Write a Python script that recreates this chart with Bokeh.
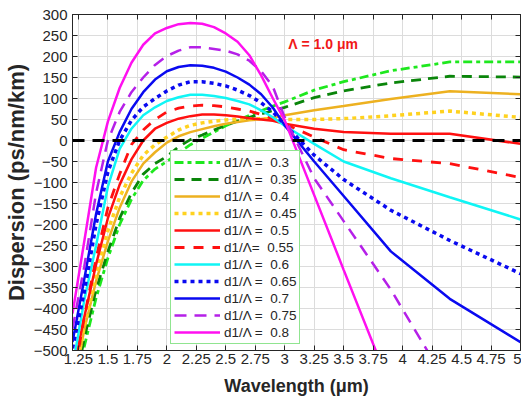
from bokeh.plotting import figure
from bokeh.models import LinearAxis, FixedTicker, Label, Span, Legend, LegendItem
from bokeh.embed import file_html
from bokeh.resources import INLINE

# ---------------- data ----------------
wavelength = [1.2, 1.3, 1.4, 1.5, 1.6, 1.7, 1.8, 1.9, 2.0, 2.1, 2.2, 2.3, 2.4, 2.5,
              2.6, 2.7, 2.8, 2.9, 3.0, 3.25, 3.5, 3.9, 4.4, 5.0]

d_030 = [-640, -490, -375, -280, -200, -140, -95, -68, -50, -30, -10, 5, 20, 35,
         48, 60, 71, 82, 92, 120, 140, 166, 187, 187]
d_035 = [-620, -470, -355, -265, -185, -125, -80, -55, -38, -15, 2, 13, 25, 36,
         46, 55, 63, 71, 79, 102, 118, 137, 153, 151]
d_040 = [-600, -450, -335, -240, -160, -98, -55, -28, -5, 10, 20, 27, 34, 40,
         44, 48, 51, 55, 60, 72, 82, 99, 117, 110]
d_045 = [-590, -440, -320, -215, -135, -78, -35, -10, 8, 25, 36, 42, 46, 49,
         51, 52, 52, 51, 50, 50, 52, 59, 70, 55]
d_050 = [-560, -420, -295, -185, -105, -45, 0, 28, 42, 52, 58, 62, 62, 60,
         57, 53, 50, 47, 40, 28, 20, 16, 16, -8]
d_055 = [-580, -420, -280, -160, -80, -10, 25, 50, 68, 77, 82, 84, 83, 80,
         75, 70, 62, 52, 40, 8, -22, -43, -55, -88]
d_060 = [-540, -380, -250, -110, -20, 28, 60, 79, 94, 103, 109, 109, 106, 101,
         94, 86, 72, 55, 35, -8, -50, -90, -135, -188]
d_065 = [-495, -360, -200, -75, 0, 48, 80, 100, 118, 132, 140, 140, 136, 130,
         120, 107, 90, 68, 38, -35, -93, -166, -238, -317]
d_070 = [-480, -330, -175, -50, 20, 75, 115, 145, 165, 175, 179, 178, 173, 164,
         150, 133, 110, 78, 36, -50, -132, -264, -377, -480]
d_075 = [-448, -300, -125, 0, 68, 115, 150, 180, 201, 214, 222, 222, 218, 214,
         205, 190, 165, 128, 55, -90, -192, -355, -590, -870]
d_080 = [-412, -240, -65, 45, 125, 185, 228, 255, 268, 277, 280, 278, 270, 255,
         235, 203, 155, 100, 48, -130, -308, -590, -950, -1380]

labels = ["d1/Λ =  0.3", "d1/Λ =  0.35", "d1/Λ =  0.4", "d1/Λ =  0.45", "d1/Λ =  0.5",
          "d1/Λ=  0.55", "d1/Λ =  0.6", "d1/Λ =  0.65", "d1/Λ =  0.7", "d1/Λ =  0.75",
          "d1/Λ =  0.8"]
series = [d_030, d_035, d_040, d_045, d_050, d_055, d_060, d_065, d_070, d_075, d_080]

x_ticks = [1.25, 1.5, 1.75, 2, 2.25, 2.5, 2.75, 3, 3.25, 3.5, 3.75, 4, 4.25, 4.5, 4.75, 5]
x_tick_labels = ["1.25", "1.5", "1.75", "2", "2.25", "2.5", "2.75", "3", "3.25", "3.5",
                 "3.75", "4", "4.25", "4.5", "4.75", "5"]
y_ticks = list(range(-500, 301, 50))

# ---------------- styles ----------------
colors = ["#1EE81E", "#0A850A", "#EDB120", "#FFD21F", "#FF1010", "#FF1010",
          "#10F5F5", "#0A0AF0", "#0A0AF0", "#B520E8", "#FF10F0"]
dashes = ["9 4 4 4", "10 7", "solid", "4 4", "solid", "10 9",
          "solid", "4 4", "solid", "12 8", "solid"]
widths = [2.8, 2.8, 2.5, 3.5, 2.5, 2.8, 2.5, 3.5, 2.5, 2.5, 2.5]

FONT = "Liberation Sans"
AX = "#262626"

p = figure(width=521, height=400, x_range=(1.2, 5), y_range=(-500, 300),
           output_backend="svg", toolbar_location=None,
           min_border_left=72, min_border_right=1, min_border_top=14, min_border_bottom=50)
p.background_fill_color = "white"
p.outline_line_color = AX
p.outline_line_width = 1

# axes
p.xaxis.ticker = FixedTicker(ticks=x_ticks)
p.xaxis.major_label_overrides = {t: l for t, l in zip(x_ticks, x_tick_labels)}
p.yaxis.ticker = FixedTicker(ticks=y_ticks)
for ax in (p.xaxis[0], p.yaxis[0]):
    ax.axis_line_color = AX
    ax.major_tick_line_color = AX
    ax.major_tick_in = 5
    ax.major_tick_out = 0
    ax.minor_tick_line_color = None
    ax.major_label_text_font = FONT
    ax.major_label_text_font_size = "15px"
    ax.major_label_text_color = AX
    ax.axis_label_text_font = FONT
    ax.axis_label_text_font_style = "bold"
    ax.axis_label_text_color = AX
p.xaxis.axis_label = "Wavelength (μm)"
p.xaxis.axis_label_text_font_size = "18px"
p.xaxis.major_label_standoff = 3
p.xaxis.axis_label_standoff = 9

p.yaxis.axis_label = "Dispersion (ps/nm/km)"
p.yaxis.axis_label_text_font_size = "22px"
p.yaxis.major_label_standoff = 5
p.yaxis.axis_label_standoff = 2

top = LinearAxis(ticker=FixedTicker(ticks=x_ticks), major_label_text_font_size="1px",
                 major_label_text_color=None,
                 major_tick_in=5, major_tick_out=0, minor_tick_line_color=None,
                 axis_line_color=AX, major_tick_line_color=AX, major_label_standoff=0)
right = LinearAxis(ticker=FixedTicker(ticks=y_ticks), major_label_text_font_size="1px",
                   major_label_text_color=None,
                   major_tick_in=5, major_tick_out=0, minor_tick_line_color=None,
                   axis_line_color=AX, major_tick_line_color=AX, major_label_standoff=0)
p.add_layout(top, "above")
p.add_layout(right, "right")

p.xgrid.ticker = FixedTicker(ticks=x_ticks)
p.ygrid.ticker = FixedTicker(ticks=y_ticks)
p.grid.grid_line_color = "#DCDCDC"
p.grid.grid_line_width = 1

# curves
items = []
for s, lab, c, d, w in zip(series, labels, colors, dashes, widths):
    r = p.line(wavelength, s, line_color=c, line_dash=d, line_width=w)
    items.append(LegendItem(label=lab, renderers=[r]))

zero = Span(location=0, dimension="width", line_color="black", line_dash="12 8", line_width=3)
p.add_layout(zero)

legend = Legend(items=items, location=(98, 6))
legend.label_text_font = FONT
legend.label_text_font_size = "13.5px"
legend.label_text_color = AX
legend.glyph_width = 46
legend.glyph_height = 16
legend.label_height = 16
legend.spacing = 1
legend.padding = 3
legend.margin = 0
legend.label_standoff = 4
legend.border_line_color = "#22CC22"
legend.border_line_width = 1.5
legend.background_fill_color = "white"
legend.background_fill_alpha = 1
p.add_layout(legend)

p.add_layout(Label(x=3.03, y=230, text="Λ = 1.0 μm", text_color="#F01818",
                   text_font=FONT, text_font_size="14px", text_font_style="bold",
                   text_baseline="middle"))

open("out.html", "w").write(file_html(p, INLINE))
